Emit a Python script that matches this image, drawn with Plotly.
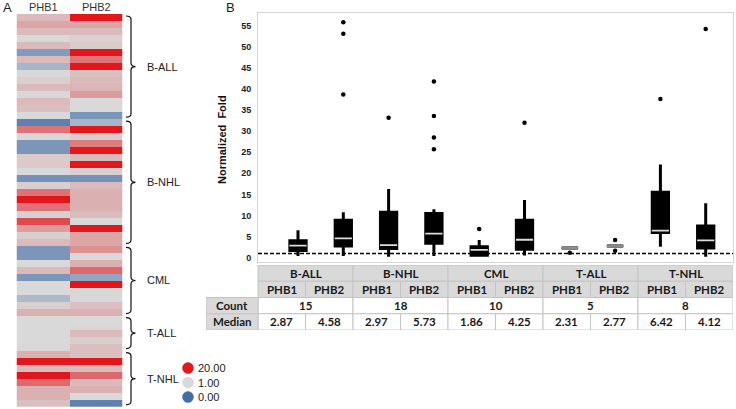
import plotly.graph_objects as go

# ---------------- data ----------------
groups = ["B-ALL", "B-NHL", "CML", "T-ALL", "T-NHL"]
group_counts = [15, 18, 10, 5, 8]
genes = ["PHB1", "PHB2"]

# panel A heatmap (normalized fold, one row per sample)
phb1_fold = [4, 6, 4, 1, 4, 0.4, 4, 0.65, 1.2, 2, 4, 1.2, 4, 3.5, 1.1,
             0.15, 11, 1.2, 0.35, 0.35, 2.5, 2.5, 1, 0.3, 2, 11, 20, 11, 2, 15, 7, 2, 4,
             0.35, 0.35, 1, 4, 0.35, 1, 1, 0.7, 2, 5,
             1, 1, 1, 1, 1.2,
             5, 20, 4, 20, 12, 5, 5, 3.5]
phb2_fold = [20, 6, 4, 1.8, 2.5, 20, 11, 20, 3.5, 4, 4.5, 7, 1, 1, 0.35,
             0.65, 20, 2.5, 10, 20, 4, 20, 2, 0.3, 4, 5, 5, 5, 4, 1, 20, 6, 6,
             8, 1, 5, 12, 0.5, 20, 1.3, 1.2, 3.5, 5,
             1, 1.2, 4, 2, 3.5,
             3.5, 20, 4, 12, 4, 5, 1, 0.15]
legend_values = [20.00, 1.00, 0.00]

# panel B box plot (groups x genes)
box_lower = [0.4, 0.4, 0.2, 0.4, 0.4, 0.55, 2.31, 2.77, 2.6, 0.25]
box_q1 = [1.7, 2.8, 2.2, 3.4, 0.6, 2.0, 2.31, 2.77, 6.0, 2.3]
box_q3 = [4.0, 8.9, 10.8, 10.5, 2.6, 8.9, 2.31, 2.77, 15.5, 7.5]
box_upper = [6.5, 10.8, 16.3, 11.5, 4.2, 13.7, 2.31, 2.77, 22.1, 12.9]
medians = [2.87, 4.58, 2.97, 5.73, 1.86, 4.25, 2.31, 2.77, 6.42, 4.12]
outlier_box = [1, 1, 1, 2, 3, 3, 3, 3, 4, 5, 6, 7, 7, 8, 9]
outlier_val = [55.8, 53.1, 38.7, 33.2, 41.8, 33.6, 28.5, 25.7, 6.8, 32.0, 1.2, 4.2, 1.66, 37.6, 54.2]
y_ticks = [0, 5, 10, 15, 20, 25, 30, 35, 40, 45, 50, 55]
reference_fold = 1

W, H = 736, 409
def px(x):
    return x / W
def py(y):
    return 1 - y / H

fig = go.Figure()

# ---------------- panel A ----------------
n_rows = sum(group_counts)
z = [[a, b] for a, b in zip(phb1_fold, phb2_fold)]
hm_colorscale = [[0, "#4a72a8"], [0.05, "#d9d9d9"], [1, "#e3161c"]]
fig.add_trace(go.Heatmap(z=z, x=genes, y=list(range(n_rows)), zmin=0, zmax=20,
                         colorscale=hm_colorscale, showscale=False,
                         xaxis="x2", yaxis="y2", hoverinfo="skip"))

hm_top, hm_bot = 14.0, 406.7
row_h = (hm_bot - hm_top) / n_rows
shapes = []
annotations = []
start = 0
for g, c in zip(groups, group_counts):
    t = hm_top + row_h * start + 2
    b = hm_top + row_h * (start + c) - 2
    m = (t + b) / 2
    xt, xl, xm = px(126), px(131), px(135.5)
    d = 3.5 / H
    yt, yb, ym = py(t), py(b), py(m)
    path = (f"M {xt},{yt} Q {xl},{yt} {xl},{yt - d} L {xl},{ym + d} "
            f"Q {xl},{ym} {xm},{ym} Q {xl},{ym} {xl},{ym - d} "
            f"L {xl},{yb + d} Q {xl},{yb} {xt},{yb}")
    shapes.append(dict(type="path", path=path, xref="paper", yref="paper",
                       line=dict(color="#111", width=1.2)))
    annotations.append(dict(text=g, x=px(145), y=ym, xref="paper", yref="paper",
                            xanchor="left", yanchor="middle", showarrow=False,
                            font=dict(family="Arial", size=11, color="#222")))
    start += c

for gname in genes:
    annotations.append(dict(text=gname, x=gname, y=py(7), xref="x2", yref="paper",
                            showarrow=False, yanchor="middle",
                            font=dict(family="Arial", size=11, color="#333")))

leg_colors = ["#e3161c", "#d9d9d9", "#3f6fa6"]
for i, (v, col) in enumerate(zip(legend_values, leg_colors)):
    cy = 368 + 14.5 * i
    r = 5.5
    shapes.append(dict(type="circle", xref="paper", yref="paper",
                       x0=px(188 - r), x1=px(188 + r), y0=py(cy + r), y1=py(cy - r),
                       fillcolor=col, line=dict(color=col, width=0.5)))
    annotations.append(dict(text=f"{v:.2f}", x=px(196), y=py(cy), xref="paper", yref="paper",
                            xanchor="left", yanchor="middle", showarrow=False,
                            font=dict(family="Arial", size=11, color="#222")))

annotations.append(dict(text="A", x=px(1), y=py(7), xref="paper", yref="paper",
                        xanchor="left", yanchor="middle", showarrow=False,
                        font=dict(family="Arial", size=13, color="#222")))
annotations.append(dict(text="B", x=px(224), y=py(7), xref="paper", yref="paper",
                        xanchor="left", yanchor="middle", showarrow=False,
                        font=dict(family="Arial", size=13, color="#222")))

# ---------------- panel B ----------------
xs = list(range(len(medians)))
fig.add_trace(go.Box(x=xs, q1=box_q1, median=medians, q3=box_q3,
                     lowerfence=box_lower, upperfence=box_upper,
                     width=0.36, whiskerwidth=0, boxpoints=False,
                     fillcolor="black", line=dict(color="black", width=3),
                     xaxis="x", yaxis="y", hoverinfo="skip", showlegend=False))
mx, my, fx, fy = [], [], [], []
for i, m in zip(xs, medians):
    flat = (box_q3[i] - box_q1[i]) < 0.5
    tx, ty = (fx, fy) if flat else (mx, my)
    tx += [i - 0.19, i + 0.19, None]
    ty += [m, m, None]
fig.add_trace(go.Scatter(x=mx, y=my, mode="lines", line=dict(color="#dcdcdc", width=1.8),
                         xaxis="x", yaxis="y", hoverinfo="skip", showlegend=False))
fig.add_trace(go.Scatter(x=fx, y=fy, mode="lines", line=dict(color="#8a8a8a", width=2),
                         xaxis="x", yaxis="y", hoverinfo="skip", showlegend=False))
fig.add_trace(go.Scatter(x=outlier_box, y=outlier_val, mode="markers",
                         marker=dict(color="black", size=4.5),
                         xaxis="x", yaxis="y", hoverinfo="skip", showlegend=False))
shapes.append(dict(type="line", xref="x domain", yref="y", x0=0, x1=1,
                   y0=reference_fold, y1=reference_fold,
                   line=dict(color="black", width=1.5, dash="4px,2px")))

annotations.append(dict(text="Normalized  Fold", x=px(222), y=py(140), xref="paper", yref="paper",
                        textangle=-90, showarrow=False, xanchor="center", yanchor="middle",
                        font=dict(family="Arial", size=11, color="#111", weight="bold")))

# ---------------- table ----------------
lab_w = 52 / 47.5
cell_line = dict(color="#c4c4c4", width=1)
hdr_fill = "#d9d9d9"
tfont = dict(family="Lato", size=11.5, color="#1a1a1a", weight="bold")
def cell(x0, x1, r, fill, text):
    shapes.append(dict(type="rect", xref="x3", yref="y3", x0=x0, x1=x1, y0=r, y1=r + 1,
                       fillcolor=fill, line=cell_line, layer="below"))
    annotations.append(dict(text=text, x=(x0 + x1) / 2, y=r + 0.5, xref="x3", yref="y3",
                            showarrow=False, xanchor="center", yanchor="middle", font=tfont))
for gi, (g, c) in enumerate(zip(groups, group_counts)):
    cell(2 * gi, 2 * gi + 2, 0, hdr_fill, g)
    cell(2 * gi, 2 * gi + 2, 2, "white", str(c))
for i in xs:
    cell(i, i + 1, 1, hdr_fill, genes[i % 2])
    cell(i, i + 1, 3, "white", f"{medians[i]:.2f}")
cell(-lab_w, 0, 2, hdr_fill, "Count")
cell(-lab_w, 0, 3, hdr_fill, "Median")

fig.add_trace(go.Scatter(x=[0], y=[0], mode="markers", marker=dict(opacity=0),
                         xaxis="x3", yaxis="y3", hoverinfo="skip", showlegend=False))

# ---------------- layout ----------------
px_per_unit = (257.7 - 25.7) / 55
y_lo = -(262 - 257.7) / px_per_unit
y_hi = (257.7 - 12.7) / px_per_unit
step = 45.3
x_lo = -(298 - 258) / step
x_hi = (733 - 298) / step

fig.update_layout(
    width=W, height=H, margin=dict(l=0, r=0, t=0, b=0),
    paper_bgcolor="white", plot_bgcolor="white", showlegend=False,
    shapes=shapes, annotations=annotations,
    xaxis=dict(domain=[px(258), px(733)], range=[x_lo, x_hi], showticklabels=False,
               showgrid=False, zeroline=False, showline=True, mirror=True,
               linecolor="#d4d4d4", linewidth=1, ticks=""),
    yaxis=dict(domain=[py(262), py(12.7)], range=[y_lo, y_hi], tickvals=y_ticks,
               showgrid=False, zeroline=False, showline=True, mirror=True,
               linecolor="#d4d4d4", linewidth=1, ticks="", ticklabelstandoff=4,
               tickfont=dict(family="Arial", size=9, color="#222", weight="bold")),
    xaxis2=dict(domain=[px(16.5), px(122.5)], anchor="y2", showticklabels=False,
                showgrid=False, zeroline=False, showline=False),
    yaxis2=dict(domain=[py(hm_bot), py(hm_top)], anchor="x2", range=[n_rows - 0.5, -0.5],
                showticklabels=False, showgrid=False, zeroline=False, showline=False),
    xaxis3=dict(domain=[px(206), px(733)], anchor="y3", range=[-lab_w, 10], visible=False),
    yaxis3=dict(domain=[py(330), py(265)], anchor="x3", range=[4, 0], visible=False),
)

fig.write_html("out.html", config={"displayModeBar": False},
               post_script="document.body.style.margin='0';document.body.style.overflow='hidden';")
